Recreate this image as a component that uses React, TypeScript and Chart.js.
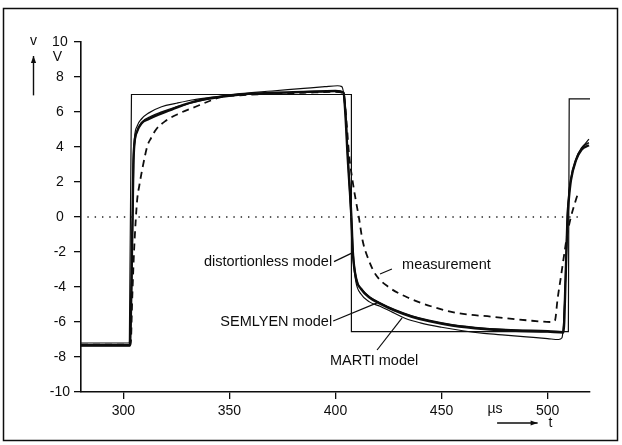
import React, { useEffect, useRef } from "react";
import { Chart, registerables } from "chart.js";

Chart.register(...registerables);

// ---- data (t in µs, v in V) ----
const xTicks = [300, 350, 400, 450, 500];
const yTicks = [-10, -8, -6, -4, -2, 0, 2, 4, 6, 8, 10];

const squareT = [280, 302.8, 303.8, 407.5, 407.5, 509.8, 510.2, 520];
const squareV = [-7.2, -7.2, 7.0, 7.0, -6.55, -6.55, 6.75, 6.75];

const distT = [280, 303.0, 304.3, 304.7, 305.2, 306.5, 308.5, 312, 316.5, 322, 326, 335, 345, 355, 370, 385, 400, 403.8, 404.6, 405.8, 407.4, 408.2, 409.8, 412, 416, 421, 428, 436, 444, 455, 470, 485, 500, 507.5, 508.5, 509.4, 510, 511, 513.4, 516, 519.5];
const distV = [-7.35, -7.35, 0, 3.0, 4.2, 4.9, 5.35, 5.6, 5.85, 6.1, 6.3, 6.65, 6.85, 7.0, 7.1, 7.15, 7.2, 7.1, 6.0, 3.3, 0.2, -2.05, -3.55, -4.1, -4.6, -4.95, -5.35, -5.7, -5.95, -6.2, -6.4, -6.5, -6.55, -6.6, -3.5, 0, 1.0, 2.1, 3.25, 3.85, 4.1];

const semT = [280, 303.1, 304.4, 304.8, 305.4, 306.8, 309, 313, 318, 324, 330, 340, 350, 362, 378, 392, 401, 404, 404.8, 406, 407.5, 408.4, 410, 412.5, 416.5, 421, 428, 436, 444, 455, 470, 485, 500, 507.3, 508.4, 509.3, 510, 511, 513.4, 516, 519.5];
const semV = [-7.3, -7.3, 0, 3.2, 4.3, 5.0, 5.45, 5.75, 6.0, 6.25, 6.45, 6.75, 6.95, 7.05, 7.1, 7.15, 7.2, 7.1, 6.0, 3.2, 0, -2.2, -3.6, -4.15, -4.6, -4.9, -5.3, -5.65, -5.9, -6.15, -6.35, -6.45, -6.5, -6.55, -3.6, 0, 1.1, 2.2, 3.3, 3.95, 4.25];

const martiT = [280, 303.2, 304.2, 304.6, 305.2, 306.5, 308.5, 312, 318, 325, 333, 342, 355, 370, 385, 395, 401, 403, 404.3, 405.8, 407.2, 408.2, 409.6, 412, 416, 421, 427, 433, 440, 450, 460, 470, 480, 490, 500, 505.2, 506.8, 508.2, 509.2, 509.8, 510.8, 513.2, 516, 519.5];
const martiV = [-7.35, -7.35, -1.0, 3.0, 4.5, 5.2, 5.6, 5.95, 6.3, 6.5, 6.7, 6.85, 7.05, 7.2, 7.35, 7.45, 7.5, 7.45, 6.5, 3.3, 0.2, -2.2, -3.7, -4.4, -4.85, -5.1, -5.45, -5.8, -6.05, -6.3, -6.5, -6.65, -6.75, -6.85, -6.95, -7.0, -6.9, -4.5, -1.0, 1.0, 2.0, 3.15, 3.9, 4.45];

const measT = [280, 303.4, 304.2, 305.0, 305.8, 306.5, 307.5, 309, 311.4, 313, 315.4, 320, 326, 334, 340, 346, 355, 370, 385, 400, 403.5, 404.8, 406.5, 408, 409.5, 411, 412.7, 415.8, 419, 425, 435, 445, 458, 474, 490, 502, 503.5, 504.7, 506.3, 508, 509.4, 511, 513.4, 514.2];
const measV = [-7.3, -7.3, -4.5, -2.0, -0.2, 1.0, 1.8, 2.8, 4.1, 4.5, 5.0, 5.5, 5.9, 6.3, 6.6, 6.85, 6.95, 7.05, 7.1, 7.15, 7.1, 6.0, 3.45, 2.1, 1.0, 0, -1.3, -2.5, -3.3, -4.0, -4.65, -5.1, -5.5, -5.7, -5.9, -6.0, -5.9, -4.7, -3.4, -2.0, -0.9, 0, 1.0, 1.3];

const zeroT = [283, 517];
const zeroV = [0, 0];

// annotations (data coordinates)
const labelTexts = ["distortionless model", "measurement", "SEMLYEN model", "MARTI model"];
const labelT = [398.4, 431.4, 398.4, 418.2];
const labelV = [-2.57, -2.74, -6.0, -8.2];
const labelAlign: CanvasTextAlign[] = ["right", "left", "right", "center"];
const leaderFromT = [399.3, 421.0, 398.9, 419.6];
const leaderFromV = [-2.55, -3.26, -5.94, -7.6];
const leaderToT = [407.9, 426.6, 419.6, 431.4];
const leaderToV = [-2.05, -2.97, -4.91, -5.77];

const FONT = '"Liberation Sans", Arial, Helvetica, sans-serif';
const INK = "#0d0d0d";

const pts = (t: number[], v: number[]) => t.map((x, i) => ({ x, y: v[i] }));

function arrow(ctx: CanvasRenderingContext2D, x1: number, y1: number, x2: number, y2: number) {
  ctx.beginPath();
  ctx.moveTo(x1, y1);
  ctx.lineTo(x2, y2);
  ctx.stroke();
  const a = Math.atan2(y2 - y1, x2 - x1);
  const L = 7, W = 2.6;
  ctx.beginPath();
  ctx.moveTo(x2, y2);
  ctx.lineTo(x2 - L * Math.cos(a) + W * Math.sin(a), y2 - L * Math.sin(a) - W * Math.cos(a));
  ctx.lineTo(x2 - L * Math.cos(a) - W * Math.sin(a), y2 - L * Math.sin(a) + W * Math.cos(a));
  ctx.closePath();
  ctx.fill();
}

const decorPlugin = {
  id: "decor",
  afterDraw(chart: any) {
    const { ctx, chartArea } = chart;
    const xs = chart.scales.x;
    const ys = chart.scales.y;
    const px = (t: number) => xs.getPixelForValue(t);
    const py = (v: number) => ys.getPixelForValue(v);
    ctx.save();
    ctx.strokeStyle = INK;
    ctx.fillStyle = INK;
    // outer frame
    ctx.lineWidth = 1.5;
    ctx.strokeRect(3.5, 8.5, 614, 432);

    // y axis title
    ctx.font = `14px ${FONT}`;
    ctx.textAlign = "center";
    ctx.textBaseline = "middle";
    const yl = chartArea.left;
    ctx.fillText("v", yl - 47.5, py(10) - 1);
    ctx.fillText("V", yl - 23.5, py(9.15));
    ctx.lineWidth = 1.4;
    arrow(ctx, yl - 47.5, py(6.95), yl - 47.5, py(9.2));

    // x axis title
    const xb = chartArea.bottom;
    ctx.fillText("µs", px(475.2), xb + 17.5);
    arrow(ctx, px(476.2), xb + 31, px(495.3), xb + 31);
    ctx.fillText("t", px(501.3), xb + 31.5);

    // annotations
    ctx.font = `14.5px ${FONT}`;
    ctx.lineWidth = 1.2;
    for (let i = 0; i < labelTexts.length; i++) {
      ctx.textAlign = labelAlign[i];
      ctx.fillText(labelTexts[i], px(labelT[i]), py(labelV[i]));
      ctx.beginPath();
      ctx.moveTo(px(leaderFromT[i]), py(leaderFromV[i]));
      ctx.lineTo(px(leaderToT[i]), py(leaderToV[i]));
      ctx.stroke();
    }
    ctx.restore();
  },
};

export default function App() {
  const ref = useRef<HTMLCanvasElement | null>(null);
  useEffect(() => {
    document.body.style.margin = "0";
    const canvas = ref.current;
    if (!canvas) return;
    const chart = new Chart(canvas, {
      type: "line",
      data: {
        datasets: [
          { label: "zero", data: pts(zeroT, zeroV), borderColor: "#222", borderWidth: 1.3, borderDash: [1.4, 5.9], pointRadius: 0 },
          { label: "source", data: pts(squareT, squareV), borderColor: INK, borderWidth: 1.2, pointRadius: 0, tension: 0 },
          { label: "measurement", data: pts(measT, measV), borderColor: INK, borderWidth: 1.8, borderDash: [7, 5], pointRadius: 0, cubicInterpolationMode: "monotone" },
          { label: "MARTI model", data: pts(martiT, martiV), borderColor: INK, borderWidth: 1.2, pointRadius: 0, cubicInterpolationMode: "monotone" },
          { label: "SEMLYEN model", data: pts(semT, semV), borderColor: INK, borderWidth: 1.4, pointRadius: 0, cubicInterpolationMode: "monotone" },
          { label: "distortionless model", data: pts(distT, distV), borderColor: INK, borderWidth: 2.4, pointRadius: 0, cubicInterpolationMode: "monotone" },
        ],
      },
      options: {
        responsive: false,
        animation: false,
        events: [],
        layout: { padding: { top: 42, right: 32, left: 0, bottom: 0 } },
        plugins: { legend: { display: false }, tooltip: { enabled: false } },
        elements: { point: { radius: 0 } },
        scales: {
          x: {
            type: "linear",
            min: 280,
            max: 520,
            afterBuildTicks: (s: any) => { s.ticks = xTicks.map((value) => ({ value })); },
            afterFit: (s: any) => { s.height = 53; },
            grid: { drawOnChartArea: false, drawTicks: true, tickLength: 7, color: INK, lineWidth: 1.3 },
            border: { display: true, color: INK, width: 1.6 },
            ticks: { color: INK, font: { size: 14, family: FONT }, padding: 4, maxRotation: 0, autoSkip: false },
          },
          y: {
            type: "linear",
            min: -10,
            max: 10,
            afterBuildTicks: (s: any) => { s.ticks = yTicks.map((value) => ({ value })); },
            afterFit: (s: any) => { s.width = 81; },
            grid: { drawOnChartArea: false, drawTicks: true, tickLength: 7, color: INK, lineWidth: 1.3 },
            border: { display: true, color: INK, width: 1.6 },
            ticks: { color: INK, font: { size: 14, family: FONT }, padding: 4, crossAlign: "center", autoSkip: false },
          },
        },
      },
      plugins: [decorPlugin],
    } as any);
    return () => chart.destroy();
  }, []);
  return (
    <div style={{ position: "absolute", left: 0, top: 0, width: 622, height: 445, background: "#fff" }}>
      <canvas ref={ref} width={622} height={445} style={{ display: "block" }} />
    </div>
  );
}
